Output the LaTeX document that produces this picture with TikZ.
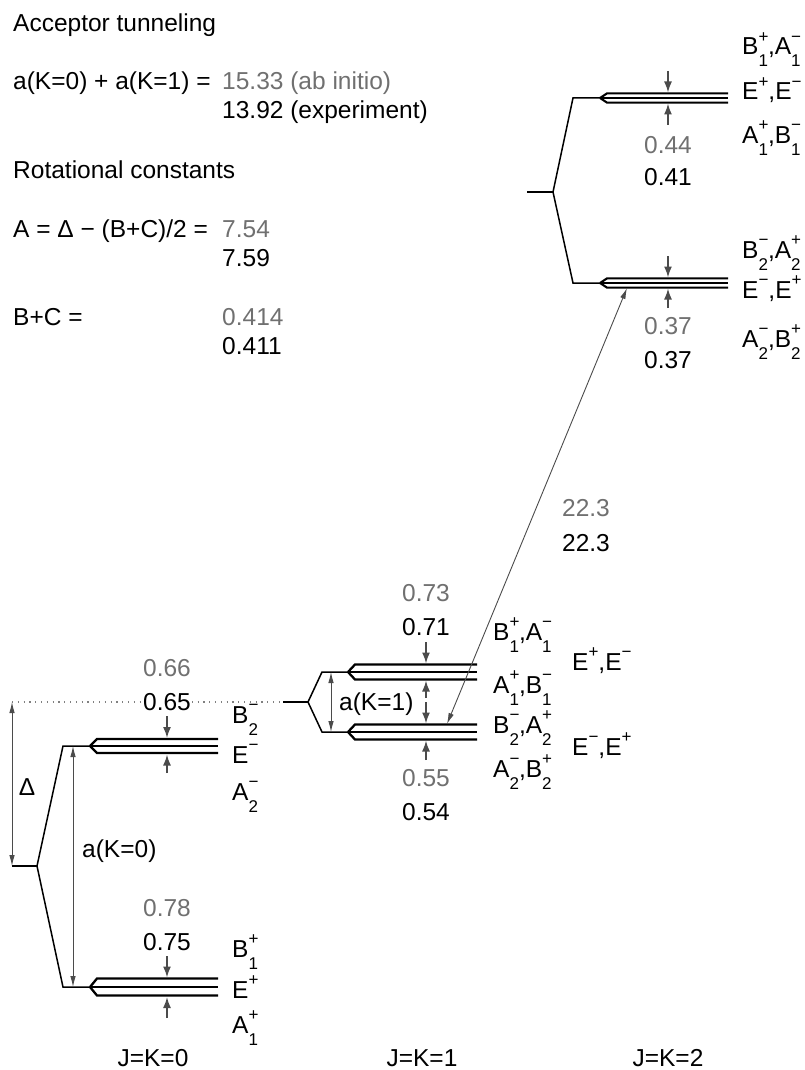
\documentclass[tikz,border=0pt]{standalone}
\usepackage{fontspec}
\setmainfont{Liberation Sans}
\usetikzlibrary{arrows.meta}
\definecolor{txtgray}{RGB}{112,112,112}
\definecolor{arrgray}{RGB}{75,75,75}
\newcommand\sml{\fontsize{17}{17}\selectfont}
\newcommand\sy[3]{#1\rlap{\raisebox{12.5pt}{\sml #3}}\raisebox{-12pt}{\sml #2}}
\newcommand\supx[2]{#1\raisebox{12.5pt}{\sml #2}}
\newcommand\trip[5]{%
  \coordinate (#1) at (#2,#3);
  \draw[lvl] (#2,#3) -- (#4,#3);
  \draw[lvl] (#2,#3) -- ++(7,-#5) -- (#4,#3-#5);
  \draw[lvl] (#2,#3) -- ++(7,#5) -- (#4,#3+#5);
}
\begin{document}
\begin{tikzpicture}[x=1pt,y=-1pt,
  font=\fontsize{24.5}{29}\selectfont,
  lvl/.style={line width=2.3pt},
  br/.style={line width=1.5pt},
  pin/.style={arrgray, line width=1.7pt, -{Latex[length=11pt,width=8pt]}},
  dbl/.style={arrgray, line width=0.9pt, {Latex[length=11pt,width=5.5pt]}-{Latex[length=11pt,width=5.5pt]}},
  gtxt/.style={text=txtgray},
  lab/.style={anchor=base west, inner sep=0pt},
  num/.style={inner sep=0pt},
  ttl/.style={anchor=base, inner sep=0pt}]
\useasboundingbox (0,0) rectangle (805,1070);

% ---------- header texts ----------
\node[lab] (h1) at (13,32) {Acceptor tunneling};
\node[lab] (h2) at (13,90) {a(K=0) + a(K=1) =};
\node[lab,gtxt] (h2g) at (222,90) {15.33 (ab initio)};
\node[lab] (h2b) at (222,118) {13.92 (experiment)};
\node[lab] (h3) at (13,178) {Rotational constants};
\node[lab] (h4) at (13,237) {A = Δ − (B+C)/2 =};
\node[lab,gtxt] (h4g) at (222,237) {7.54};
\node[lab] (h4b) at (222,266) {7.59};
\node[lab] (h5) at (13,325) {B+C =};
\node[lab,gtxt] (h5g) at (222,325) {0.414};
\node[lab] (h5b) at (222,354) {0.411};

% ---------- J=K=0 ----------
\coordinate (s0a) at (12,866);
\coordinate (s0b) at (37,866);
\draw[gray, line width=1.1pt, dash pattern=on 1.2pt off 4.6pt] (12,702) coordinate (dtop) -- (283,702) coordinate (dend);
\draw[br] (s0a) -- (s0b);
\draw[br] (s0b) -- (63,746) -- (90,746);
\draw[br] (s0b) -- (63,987) -- (90,987);
\trip{u0}{90}{746}{218}{7}
\trip{l0}{90}{987}{218}{8.5}
\draw[dbl] (dtop) -- (s0a);
\node[num] (delta) at (27,787) {Δ};
\coordinate (ak0t) at (73,746);
\coordinate (ak0b) at (73,987);
\draw[dbl] (ak0t) -- (ak0b);
\node[lab] (ak0) at (82,857) {a(K=0)};
\draw[pin] (167,716) -- (167,738);
\draw[pin] (167,773) -- (167,754.5);
\draw[pin] (167,956) -- (167,977.5);
\draw[pin] (167,1018) -- (167,997);
\node[num,gtxt] (n066) at (167,668) {0.66};
\node[num,fill=white,inner sep=1pt] (n065) at (167,702) {0.65};
\node[num,gtxt] (n078) at (167,908) {0.78};
\node[num] (n075) at (167,942) {0.75};
\node[lab] (k0a) at (232,723) {\sy{B}{2}{−}};
\node[lab] (k0b) at (232,763) {\supx{E}{−}};
\node[lab] (k0c) at (232,800) {\sy{A}{2}{−}};
\node[lab] (k0d) at (232,957) {\sy{B}{1}{+}};
\node[lab] (k0e) at (232,998) {\supx{E}{+}};
\node[lab] (k0f) at (232,1033) {\sy{A}{1}{+}};
\node[ttl] (jk0) at (153,1066) {J=K=0};

% ---------- J=K=1 ----------
\coordinate (s1a) at (283,702);
\coordinate (s1b) at (308,702);
\draw[br] (s1a) -- (s1b);
\draw[br] (s1b) -- (322,672) -- (348,672);
\draw[br] (s1b) -- (322,732) -- (348,732);
\trip{u1}{348}{672}{477}{7.5}
\trip{l1}{348}{732}{477}{7.5}
\coordinate (ak1t) at (331,672);
\coordinate (ak1b) at (331,732);
\draw[dbl] (ak1t) -- (ak1b);
\node[lab] (ak1) at (339,710) {a(K=1)};
\draw[pin] (426,642) -- (426,663.5);
\draw[pin] (426,698) -- (426,680.5);
\draw[pin] (426,702) -- (426,723.5);
\draw[pin] (426,760) -- (426,740.5);
\node[num,gtxt] (n073) at (426,593) {0.73};
\node[num] (n071) at (426,627) {0.71};
\node[num,gtxt] (n055) at (426,778) {0.55};
\node[num] (n054) at (426,812) {0.54};
\node[lab] (k1a) at (493,640) {\sy{B}{1}{+},\sy{A}{1}{−}};
\node[lab] (k1b) at (493,693) {\sy{A}{1}{+},\sy{B}{1}{−}};
\node[lab] (k1c) at (493,733) {\sy{B}{2}{−},\sy{A}{2}{+}};
\node[lab] (k1d) at (493,777) {\sy{A}{2}{−},\sy{B}{2}{+}};
\node[lab] (k1e) at (572,670) {\supx{E}{+},\supx{E}{−}};
\node[lab] (k1f) at (572,755) {\supx{E}{−},\supx{E}{+}};
\node[ttl] (jk1) at (422,1066) {J=K=1};

% ---------- J=K=2 ----------
\coordinate (s2a) at (527,192);
\coordinate (s2b) at (553,192);
\draw[br] (s2a) -- (s2b);
\draw[br] (s2b) -- (573,98) -- (600,98);
\draw[br] (s2b) -- (573,283) -- (600,283);
\begin{scope}[lvl/.style={line width=2.1pt}]
\trip{u2}{600}{98}{728}{4.6}
\trip{l2}{600}{283}{728}{4.6}
\end{scope}
\draw[pin] (668,71) -- (668,92.5);
\draw[pin] (668,125) -- (668,103.5);
\draw[pin] (668,256) -- (668,277.5);
\draw[pin] (668,308) -- (668,288.5);
\node[num,gtxt] (n044) at (668,145) {0.44};
\node[num] (n041) at (668,177) {0.41};
\node[num,gtxt] (n037g) at (668,326) {0.37};
\node[num] (n037) at (668,360) {0.37};
\node[lab] (k2a) at (742,55) {\sy{B}{1}{+},\sy{A}{1}{−}};
\node[lab] (k2b) at (742,100) {\supx{E}{+},\supx{E}{−}};
\node[lab] (k2c) at (742,143) {\sy{A}{1}{+},\sy{B}{1}{−}};
\node[lab] (k2d) at (742,258) {\sy{B}{2}{−},\sy{A}{2}{+}};
\node[lab] (k2e) at (742,298) {\supx{E}{−},\supx{E}{+}};
\node[lab] (k2f) at (742,347) {\sy{A}{2}{−},\sy{B}{2}{+}};
\node[ttl] (jk2) at (668,1066) {J=K=2};

% ---------- transition ----------
\coordinate (trA) at (447,724);
\coordinate (trB) at (627,288);
\draw[dbl] (trA) -- (trB);
\node[num,gtxt] (t22g) at (586,508) {22.3};
\node[num] (t22) at (586,543) {22.3};
\end{tikzpicture}
\end{document}
